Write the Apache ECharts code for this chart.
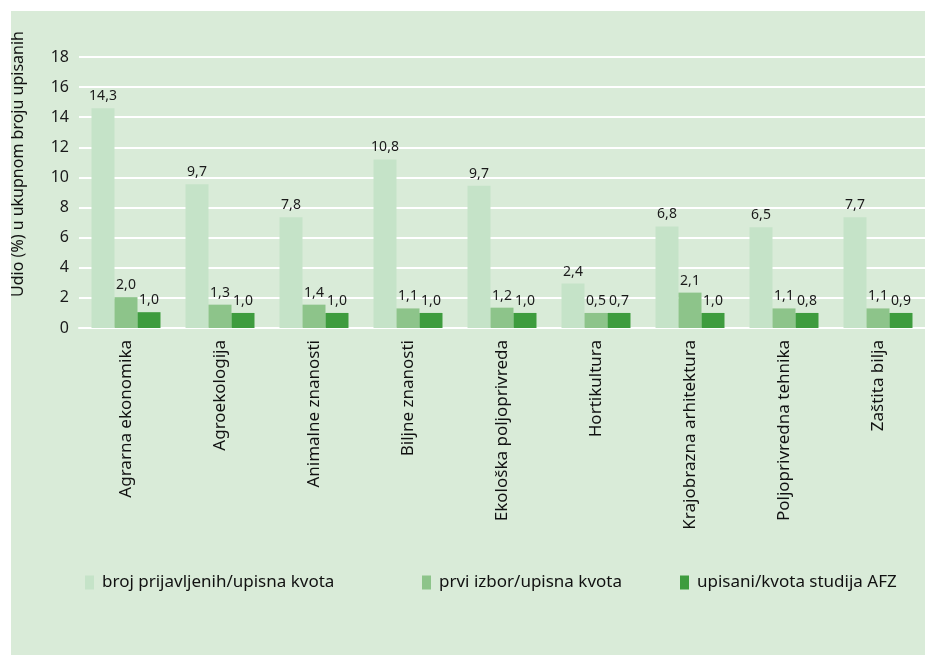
<!DOCTYPE html>
<html>
<head>
<meta charset="utf-8">
<script src="https://cdn.jsdelivr.net/npm/echarts@6/dist/echarts.min.js"></script>
<style>
html,body{margin:0;padding:0;background:#ffffff;}
#wrap{position:relative;width:925px;height:657px;overflow:hidden;}
#bg{position:absolute;left:11px;top:11px;right:0;bottom:2px;background:#d9ebd8;}
#chart{position:absolute;left:0;top:0;width:925px;height:657px;}
</style>
</head>
<body>
<div id="wrap"><div id="bg"></div><div id="chart"></div></div>
<script>
const categories = ['Agrarna ekonomika','Agroekologija','Animalne znanosti','Biljne znanosti','Ekološka poljoprivreda','Hortikultura','Krajobrazna arhitektura','Poljoprivredna tehnika','Zaštita bilja'];
const seriesNames = ['broj prijavljenih/upisna kvota','prvi izbor/upisna kvota','upisani/kvota studija AFZ'];
// bar heights as drawn in the picture
const prijavljeni = [14.6, 9.55, 7.35, 11.2, 9.45, 2.95, 6.75, 6.7, 7.35];
const prviIzbor = [2.05, 1.55, 1.55, 1.3, 1.35, 1.0, 2.35, 1.3, 1.3];
const upisani = [1.05, 1.0, 1.0, 1.0, 1.0, 1.0, 1.0, 1.0, 1.0];
// data labels as printed in the picture
const prijavljeniLbl = ['14,3','9,7','7,8','10,8','9,7','2,4','6,8','6,5','7,7'];
const prviIzborLbl = ['2,0','1,3','1,4','1,1','1,2','0,5','2,1','1,1','1,1'];
const upisaniLbl = ['1,0','1,0','1,0','1,0','1,0','0,7','1,0','0,8','0,9'];
const yTitle = 'Udio (%) u ukupnom broju upisanih';

const colors = ['#c5e3c8','#8dc48a','#3e9c3e'];
const font = 'Noto Sans';
function mk(name, vals, lbls, color){
  return {
    name: name, type: 'bar', data: vals, barWidth: 23, barGap: '0%',
    itemStyle: {color: color},
    label: {show: true, position: 'top', distance: 5, color: '#1a1a1a', fontFamily: font, fontSize: 14,
      formatter: p => lbls[p.dataIndex]}
  };
}
function lg(i, left){
  return {
    left: left, top: 569, itemWidth: 9, itemHeight: 14, icon: 'rect',
    textStyle: {color: '#111', fontFamily: font, fontSize: 17, padding: [0,0,0,3]},
    data: [seriesNames[i]]
  };
}
const chart = echarts.init(document.getElementById('chart'));
chart.setOption({
  animation: false,
  backgroundColor: 'transparent',
  color: colors,
  grid: {left: 79, width: 852, top: 57, bottom: 329, containLabel: false},
  xAxis: {
    type: 'category', data: categories,
    axisLine: {show: true, lineStyle: {color: '#ffffff', width: 2}},
    axisTick: {show: false},
    axisLabel: {rotate: 90, margin: 12, color: '#111', fontFamily: font, fontSize: 17, interval: 0}
  },
  yAxis: {
    type: 'value', min: 0, max: 18, interval: 2,
    axisLine: {show: false}, axisTick: {show: false},
    splitLine: {lineStyle: {color: '#ffffff', width: 2}},
    axisLabel: {margin: 10, color: '#1a1a1a', fontFamily: font, fontSize: 16}
  },
  legend: [lg(0, 80), lg(1, 417), lg(2, 675)],
  graphic: [{
    type: 'text', rotation: Math.PI/2,
    style: {text: yTitle, fill: '#111', font: '16px "Noto Sans"', textAlign: 'center', textVerticalAlign: 'middle'},
    x: 18, y: 164
  }],
  series: [
    mk(seriesNames[0], prijavljeni, prijavljeniLbl, colors[0]),
    mk(seriesNames[1], prviIzbor, prviIzborLbl, colors[1]),
    mk(seriesNames[2], upisani, upisaniLbl, colors[2])
  ]
});
</script>
</body>
</html>
